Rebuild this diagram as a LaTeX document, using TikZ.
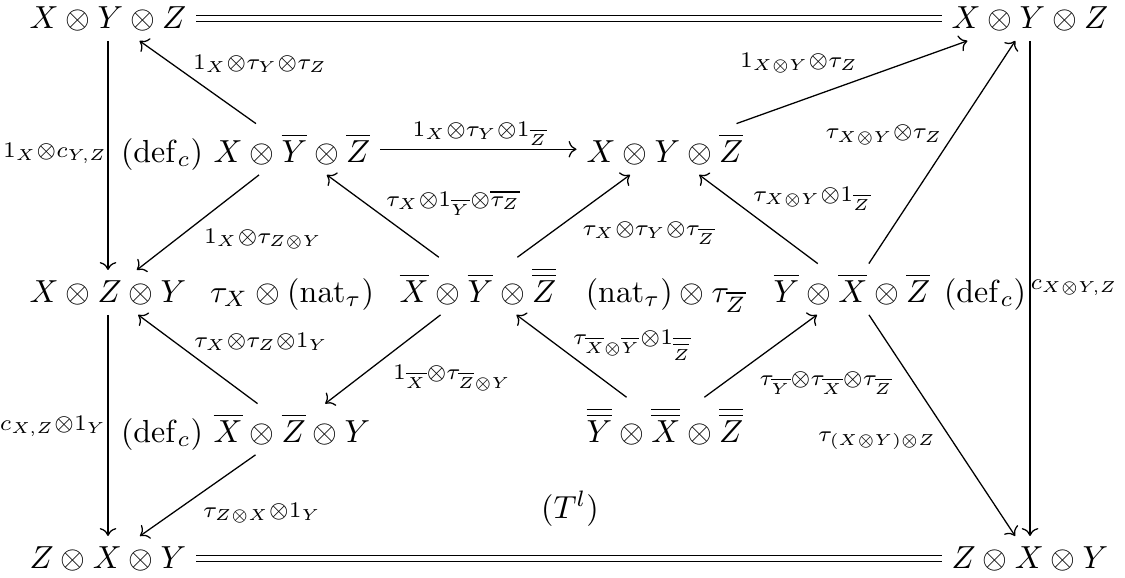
\documentclass[tikz,border=0pt]{standalone}
\usetikzlibrary{arrows.meta}
\begin{document}
\begin{tikzpicture}[x=0.3135pt,y=-0.3135pt,
  obj/.style={anchor=base,inner sep=3pt},
  reg/.style={anchor=base,inner sep=0pt},
  lbl/.style={inner sep=0pt},
  arr/.style={-{Computer Modern Rightarrow}},
  eqline/.style={double,double distance=1.3pt}]
\useasboundingbox (0,0) rectangle (1125,578);
% objects
\node[obj] (tl) at (108,28) {$X\otimes Y\otimes Z$};
\node[obj] (tr) at (1030,28) {$X\otimes Y\otimes Z$};
\node[obj] (a) at (292,162) {$X\otimes\overline{Y}\otimes\overline{Z}$};
\node[obj] (b) at (665,162) {$X\otimes Y\otimes\overline{Z}$};
\node[obj] (c) at (108,302) {$X\otimes Z\otimes Y$};
\node[obj] (d) at (478,302) {$\overline{X}\otimes\overline{Y}\otimes\overline{\overline{Z}}$};
\node[obj] (e) at (852,302) {$\overline{Y}\otimes\overline{X}\otimes\overline{Z}$};
\node[obj] (f) at (292,442) {$\overline{X}\otimes\overline{Z}\otimes Y$};
\node[obj] (g) at (665,442) {$\overline{\overline{Y}}\otimes\overline{\overline{X}}\otimes\overline{\overline{Z}}$};
\node[obj] (bl) at (108,568) {$Z\otimes X\otimes Y$};
\node[obj] (br) at (1030,568) {$Z\otimes X\otimes Y$};
% region labels
\node[reg] (r1) at (162,162) {$(\mathrm{def}_c)$};
\node[reg] (r2) at (292,302) {$\tau_X\otimes(\mathrm{nat}_\tau)$};
\node[reg] (r3) at (666,302) {$(\mathrm{nat}_\tau)\otimes\tau_{\overline{Z}}$};
\node[reg] (r4) at (985,302) {$(\mathrm{def}_c)$};
\node[reg] (r5) at (162,442) {$(\mathrm{def}_c)$};
\node[reg] (r6) at (570,518) {$(T^l)$};
% connectors
\draw[eqline] (tl) -- (tr);
\draw[eqline] (bl) -- (br);
\draw[arr] (tl) -- (c) node[lbl] at (55,153) {$\scriptstyle 1_X\otimes c_{Y,Z}$};
\draw[arr] (c) -- (bl) node[lbl] at (53,426) {$\scriptstyle c_{X,Z}\otimes 1_Y$};
\draw[arr] (tr) -- (br) node[lbl] at (1074,288) {$\scriptstyle c_{X\otimes Y,Z}$};
\draw[arr] (a) -- (tl) node[lbl] at (260,64) {$\scriptstyle 1_X\otimes\tau_Y\otimes\tau_Z$};
\draw[arr] (a) -- (b) node[lbl] at (480,134) {$\scriptstyle 1_X\otimes\tau_Y\otimes 1_{\overline{Z}}$};
\draw[arr] (b) -- (tr) node[lbl] at (799,63) {$\scriptstyle 1_{X\otimes Y}\otimes\tau_Z$};
\draw[arr] (a) -- (c) node[lbl] at (263,239) {$\scriptstyle 1_X\otimes\tau_{Z\otimes Y}$};
\draw[arr] (d) -- (a) node[lbl] at (453,203) {$\scriptstyle \tau_X\otimes 1_{\overline{Y}}\otimes\overline{\tau_Z}$};
\draw[arr] (d) -- (b) node[lbl] at (649,233) {$\scriptstyle \tau_X\otimes\tau_Y\otimes\tau_{\overline{Z}}$};
\draw[arr] (e) -- (b) node[lbl] at (812,199) {$\scriptstyle \tau_{X\otimes Y}\otimes 1_{\overline{Z}}$};
\draw[arr] (e) -- (tr) node[lbl] at (884,135) {$\scriptstyle \tau_{X\otimes Y}\otimes\tau_Z$};
\draw[arr] (e) -- (br) node[lbl] at (877,441) {$\scriptstyle \tau_{(X\otimes Y)\otimes Z}$};
\draw[arr] (f) -- (c) node[lbl] at (261,342) {$\scriptstyle \tau_X\otimes\tau_Z\otimes 1_Y$};
\draw[arr] (d) -- (f) node[lbl] at (452,378) {$\scriptstyle 1_{\overline{X}}\otimes\tau_{\overline{Z}\otimes Y}$};
\draw[arr] (g) -- (d) node[lbl] at (632,345) {$\scriptstyle \tau_{\overline{X}\otimes\overline{Y}}\otimes 1_{\overline{\overline{Z}}}$};
\draw[arr] (g) -- (e) node[lbl] at (826,383) {$\scriptstyle \tau_{\overline{Y}}\otimes\tau_{\overline{X}}\otimes\tau_{\overline{Z}}$};
\draw[arr] (f) -- (bl) node[lbl] at (262,513) {$\scriptstyle \tau_{Z\otimes X}\otimes 1_Y$};
\end{tikzpicture}
\end{document}
